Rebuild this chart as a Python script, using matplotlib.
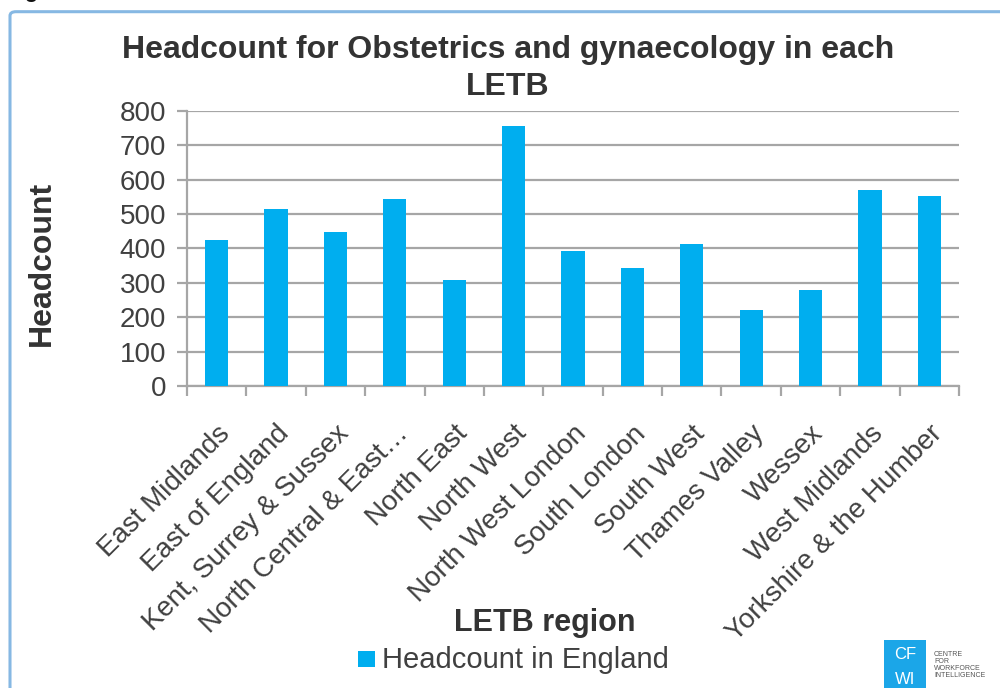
import matplotlib
matplotlib.use("Agg")
import matplotlib.pyplot as plt
from matplotlib.patches import FancyBboxPatch, Rectangle

plt.rcParams['font.family'] = ['Liberation Sans', 'DejaVu Sans']

regions = ['East Midlands', 'East of England', 'Kent, Surrey & Sussex',
           'North Central & East\u2026', 'North East', 'North West',
           'North West London', 'South London', 'South West', 'Thames Valley',
           'Wessex', 'West Midlands', 'Yorkshire & the Humber']
headcount = [425, 514, 449, 543, 308, 757, 391, 344, 414, 222, 279, 571, 553]

bar_color = '#00AEEF'
grid_color = '#A6A6A6'
text_color = '#404040'

fig = plt.figure(figsize=(10, 6.88), dpi=100)

# light blue frame around the chart
frame = FancyBboxPatch((0.010, -0.05), 1.1, 1.033, boxstyle='round,pad=0,rounding_size=0.006',
                       transform=fig.transFigure, fill=False, edgecolor='#86B8E3',
                       linewidth=2.2)
fig.patches.append(frame)
fig.text(0.005, 1.004, 'Figure 3.6', fontsize=16, fontweight='bold', color='#111111',
         va='baseline', ha='left')

ax = fig.add_axes([0.187, 0.439, 0.772, 0.400])
x = range(len(regions))
ax.bar(x, headcount, width=0.39, color=bar_color, zorder=3)

ax.set_ylim(0, 800)
ax.set_xlim(-0.5, len(regions) - 0.5)
ax.set_yticks(range(0, 801, 100))
ax.yaxis.grid(True, color=grid_color, linewidth=1.6, zorder=0)
ax.set_axisbelow(True)

for side in ['top', 'right']:
    ax.spines[side].set_visible(False)
for side in ['left', 'bottom']:
    ax.spines[side].set_color(grid_color)
    ax.spines[side].set_linewidth(1.6)

ax.tick_params(axis='y', length=7, width=1.6, color=grid_color, pad=8,
               labelsize=20, labelcolor=text_color)
# x ticks sit between the categories, labels at the centres
ax.set_xticks([i - 0.5 for i in range(len(regions) + 1)])
ax.set_xticklabels([])
ax.tick_params(axis='x', which='major', length=7, width=1.6, color=grid_color)
ax.set_xticks(list(x), minor=True)
ax.set_xticklabels(regions, minor=True, rotation=45, ha='right',
                   rotation_mode='anchor', fontsize=20, color=text_color)
ax.tick_params(axis='x', which='minor', length=0, pad=25)

fig.text(0.508, 0.900, 'Headcount for Obstetrics and gynaecology in each\nLETB',
         ha='center', va='center', fontsize=23, fontweight='bold', color='#333333',
         linespacing=1.3)
fig.text(0.042, 0.617, 'Headcount', rotation=90, ha='center', va='center',
         fontsize=23, fontweight='bold', color='#333333')
fig.text(0.545, 0.095, 'LETB region', ha='center', va='center',
         fontsize=22, fontweight='bold', color='#333333')

# legend below the axis title
fig.patches.append(Rectangle((0.358, 0.030), 0.0165, 0.0245, transform=fig.transFigure,
                             facecolor=bar_color, edgecolor='none'))
fig.text(0.382, 0.040, 'Headcount in England', ha='left', va='center',
         fontsize=21, color=text_color)

# CFWI logo
fig.patches.append(Rectangle((0.884, -0.01), 0.042, 0.08, transform=fig.transFigure,
                             facecolor='#1BA6E8', edgecolor='none'))
fig.text(0.905, 0.049, 'CF', ha='center', va='center', fontsize=12, color='white')
fig.text(0.905, 0.012, 'WI', ha='center', va='center', fontsize=12, color='white')
fig.text(0.934, 0.033, 'CENTRE\nFOR\nWORKFORCE\nINTELLIGENCE', ha='left', va='center',
         fontsize=5, color='#555555', linespacing=1.0)

fig.savefig('out.png', dpi=100)
